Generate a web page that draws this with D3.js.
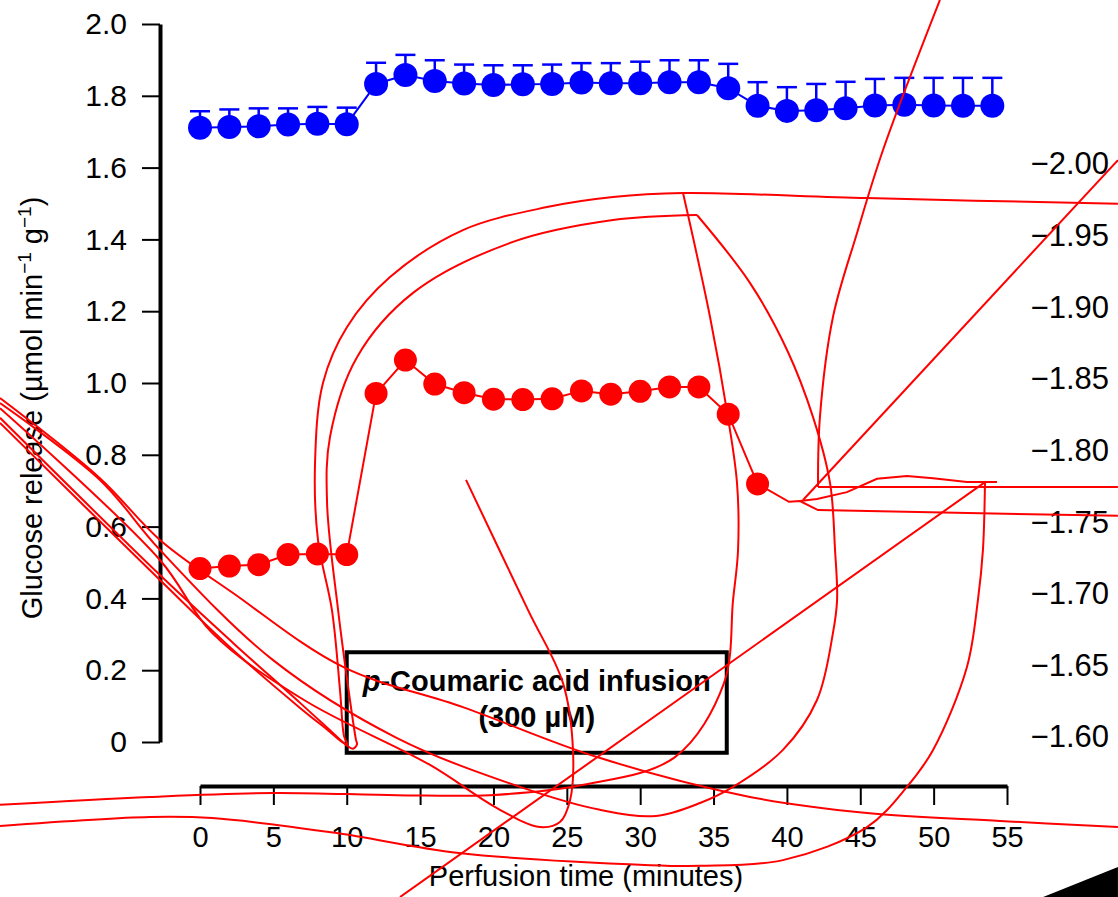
<!DOCTYPE html>
<html>
<head>
<meta charset="utf-8">
<script src="https://cdn.jsdelivr.net/npm/d3@7"></script>
<style>
  body { margin: 0; background: #fff; }
  svg { display: block; font-family: "Liberation Sans", Arial, sans-serif; }
</style>
</head>
<body>
<svg id="chart" width="1118" height="897"></svg>
<script>
// sampling times (minutes)
const minutes = [0, 2, 4, 6, 8, 10, 12, 14, 16, 18, 20, 22, 24, 26, 28, 30, 32, 34, 36, 38, 40, 42, 44, 46, 48, 50, 52, 54];

// blue series (mean and upper SEM)
const control = [1.711, 1.713, 1.715, 1.720, 1.722, 1.721, 1.833, 1.858, 1.841, 1.834, 1.830, 1.832, 1.833, 1.837,
  1.835, 1.835, 1.838, 1.838, 1.821, 1.772, 1.758, 1.760, 1.765, 1.773, 1.775, 1.773, 1.772, 1.772];
const controlSem = [0.046, 0.049, 0.050, 0.045, 0.047, 0.046, 0.059, 0.056, 0.058, 0.053, 0.055, 0.053, 0.054, 0.054,
  0.056, 0.060, 0.061, 0.061, 0.068, 0.066, 0.066, 0.073, 0.074, 0.074, 0.075, 0.077, 0.078, 0.078];

// red series (only up to 38 min)
const treated = [0.483, 0.490, 0.494, 0.522, 0.524, 0.522, 0.971, 1.064, 0.997, 0.973, 0.955, 0.954, 0.956, 0.978,
  0.969, 0.977, 0.989, 0.989, 0.913, 0.719];

const yTicks = [0, 0.2, 0.4, 0.6, 0.8, 1.0, 1.2, 1.4, 1.6, 1.8, 2.0];
const xTicks = [0, 5, 10, 15, 20, 25, 30, 35, 40, 45, 50, 55];
const rightTicks = [-2.00, -1.95, -1.90, -1.85, -1.80, -1.75, -1.70, -1.65, -1.60];

// infusion box: minutes and glucose levels it spans
const infusionSpan = [10, 35.9];
const infusionLevels = [0.25, -0.03];

// stray red traces, in [minutes, glucose] units
const traceLongRight = [[-13.63, 0.958], [-6.82, 0.735], [-2.73, 0.563], [2.25, 0.415], [9.75, 0.209], [17.92, 0.097],
  [27.06, -0.042], [37.48, -0.153], [45.46, -0.198], [54.52, -0.220], [62.56, -0.237]];
const traceInnerTop = [[-13.63, 0.944], [-6.82, 0.730], [-2.73, 0.535], [4.98, 0.228], [13.43, 0.011], [21.81, -0.125],
  [27.26, -0.189], [31.08, -0.206], [34.08, -0.170], [36.33, -0.125], [39.73, -0.022], [42.05, 0.117], [43.14, 0.304],
  [43.42, 0.396], [43.28, 0.535], [42.94, 0.721], [41.78, 0.905], [40.01, 1.092], [37.48, 1.279], [33.87, 1.468]];
const traceInnerLoop = [[33.87, 1.468], [28.15, 1.454], [21.33, 1.393], [14.52, 1.251], [10.70, 1.072], [8.86, 0.850],
  [8.66, 0.666], [9.41, 0.368], [10.22, 0.117], [10.63, 0.006], [10.70, -0.006], [10.43, -0.019], [9.95, -0.008],
  [9.06, 0.025], [6.82, 0.109], [2.25, 0.276], [-2.73, 0.465], [-13.63, 0.903]];
const traceOuterLoop = [[62.56, 1.499], [45.46, 1.515], [32.92, 1.529], [28.15, 1.518], [23.65, 1.490], [17.92, 1.426],
  [12.95, 1.295], [10.02, 1.156], [8.38, 1.000], [7.84, 0.777], [8.04, 0.563], [8.99, 0.368], [9.54, 0.145],
  [9.81, 0.017], [10.02, -0.006], [9.68, 0.000], [8.86, 0.028], [6.82, 0.095], [2.25, 0.256], [-2.73, 0.451],
  [-13.63, 0.889]];
const traceNarrowU = [[18.13, 0.730], [22.35, 0.368], [24.74, 0.164], [25.42, -0.022], [25.22, -0.162], [24.53, -0.223],
  [23.17, -0.237], [20.24, -0.184], [15.68, -0.064], [7.09, 0.117], [0.82, 0.304], [-2.73, 0.507], [-13.63, 0.930]];
const traceRidge = [[32.92, 1.529], [34.76, 1.184], [35.98, 0.905], [36.60, 0.721], [36.67, 0.535], [36.33, 0.396],
  [35.71, 0.164], [32.37, -0.042], [26.03, -0.120], [19.76, -0.148], [13.43, -0.148], [4.98, -0.142],
  [-3.41, -0.153], [-13.63, -0.175]];
const traceSpire = [[50.43, 2.067], [46.55, 1.649], [44.78, 1.418], [43.14, 1.184], [42.25, 0.905], [42.12, 0.710]];
const traceHook = [[53.50, 0.724], [53.36, 0.535], [53.02, 0.396], [52.27, 0.209], [49.96, -0.022], [48.18, -0.125],
  [45.46, -0.237], [39.73, -0.329], [34.08, -0.345], [30.67, -0.343], [17.65, -0.309], [9.20, -0.253],
  [0.82, -0.212], [-3.41, -0.209], [-13.63, -0.234]];
const traceShelf = [[42.12, 0.710], [62.56, 0.710]];
const traceDiagonal = [[62.56, 1.621], [41.10, 0.674]];
const traceTail = [[38, 0.719], [40.14, 0.669], [40.89, 0.671], [42.12, 0.646], [62.56, 0.630]];
const traceRipple = [[40.89, 0.671], [42.05, 0.677], [44.09, 0.696], [46.14, 0.733], [48.18, 0.741], [49.96, 0.735],
  [52.27, 0.724], [54.32, 0.724]];
const traceSlash = [[53.50, 0.724], [13.63, -0.432]];
const cornerWedge = [[57.45, -0.432], [62.56, -0.348], [62.56, -0.432]];

const svg = d3.select("#chart");

const x = d3.scaleLinear().domain([0, 55]).range([200, 1007]);
const y = d3.scaleLinear().domain([0, 2]).range([742, 24]);
const y2 = d3.scaleLinear().domain([-1.6, -2.0]).range([737, 164]);

// left axis
const yAxis = svg.append("g")
  .attr("transform", "translate(160,0)")
  .call(d3.axisLeft(y).tickValues(yTicks).tickSize(18).tickSizeOuter(0).tickPadding(15)
    .tickFormat(d => d === 0 ? "0" : d3.format(".1f")(d)));
yAxis.select(".domain").attr("stroke-width", 4);
yAxis.selectAll(".tick line").attr("stroke-width", 2);
yAxis.selectAll("text").attr("font-size", 30).attr("font-family", null).attr("fill", "#000");

// bottom axis, offset below the plot
const xAxis = svg.append("g")
  .attr("transform", "translate(0,786)")
  .call(d3.axisBottom(x).tickValues(xTicks).tickSize(19).tickSizeOuter(0).tickPadding(21));
xAxis.select(".domain").attr("stroke-width", 4);
xAxis.selectAll(".tick line").attr("stroke-width", 2);
xAxis.selectAll("text").attr("font-size", 29).attr("font-family", null).attr("fill", "#000");

// right axis: labels only
const rAxis = svg.append("g")
  .attr("transform", "translate(1109,0)")
  .call(d3.axisLeft(y2).tickValues(rightTicks).tickSize(0).tickPadding(0).tickFormat(d3.format(".2f")));
rAxis.select(".domain").remove();
rAxis.selectAll("text").attr("font-size", 31).attr("font-family", null).attr("fill", "#000");

// axis titles
const yTitle = svg.append("text")
  .attr("transform", "translate(42,408) rotate(-90)")
  .attr("text-anchor", "middle")
  .attr("font-size", 29);
yTitle.append("tspan").text("Glucose release (\u00b5mol min");
yTitle.append("tspan").attr("font-size", 19).attr("dy", -11).text("\u22121");
yTitle.append("tspan").attr("dy", 11).text(" g");
yTitle.append("tspan").attr("font-size", 19).attr("dy", -11).text("\u22121");
yTitle.append("tspan").attr("dy", 11).text(")");

svg.append("text")
  .attr("x", 586)
  .attr("y", 886)
  .attr("text-anchor", "middle")
  .attr("font-size", 29)
  .text("Perfusion time (minutes)");

// infusion box
const boxLeft = x(infusionSpan[0]);
const boxRight = x(infusionSpan[1]);
const boxTop = y(infusionLevels[0]);
const boxBottom = y(infusionLevels[1]);
svg.append("rect")
  .attr("x", boxLeft)
  .attr("y", boxTop)
  .attr("width", boxRight - boxLeft)
  .attr("height", boxBottom - boxTop)
  .attr("fill", "none")
  .attr("stroke", "#000")
  .attr("stroke-width", 4);

const boxText = svg.append("text")
  .attr("x", (boxLeft + boxRight) / 2)
  .attr("y", boxTop + 39)
  .attr("text-anchor", "middle")
  .attr("font-size", 29)
  .attr("font-weight", "bold");
boxText.append("tspan").attr("font-style", "italic").text("p");
boxText.append("tspan").text("-Coumaric acid infusion");
svg.append("text")
  .attr("x", (boxLeft + boxRight) / 2)
  .attr("y", boxTop + 75)
  .attr("text-anchor", "middle")
  .attr("font-size", 29)
  .attr("font-weight", "bold")
  .text("(300 \u00b5M)");

// blue series
const blue = "#0000ff";
const red = "#ff0000";
const controlData = minutes.map((m, i) => ({ m, v: control[i], e: controlSem[i] }));
const treatedData = treated.map((v, i) => ({ m: minutes[i], v }));

const line = d3.line().x(d => x(d.m)).y(d => y(d.v));

svg.append("path")
  .datum(controlData)
  .attr("d", line)
  .attr("fill", "none")
  .attr("stroke", blue)
  .attr("stroke-width", 2);

const errs = svg.append("g").attr("stroke", blue).attr("stroke-width", 2.5);
errs.selectAll("line.stem")
  .data(controlData)
  .enter()
  .append("line")
  .attr("class", "stem")
  .attr("x1", d => x(d.m))
  .attr("x2", d => x(d.m))
  .attr("y1", d => y(d.v))
  .attr("y2", d => y(d.v + d.e));
errs.selectAll("line.cap")
  .data(controlData)
  .enter()
  .append("line")
  .attr("class", "cap")
  .attr("x1", d => x(d.m) - 10)
  .attr("x2", d => x(d.m) + 10)
  .attr("y1", d => y(d.v + d.e))
  .attr("y2", d => y(d.v + d.e));

svg.append("g")
  .selectAll("circle")
  .data(controlData)
  .enter()
  .append("circle")
  .attr("cx", d => x(d.m))
  .attr("cy", d => y(d.v))
  .attr("r", 12)
  .attr("fill", blue);

// red series
svg.append("path")
  .datum(treatedData)
  .attr("d", line)
  .attr("fill", "none")
  .attr("stroke", red)
  .attr("stroke-width", 2);

svg.append("g")
  .selectAll("circle")
  .data(treatedData)
  .enter()
  .append("circle")
  .attr("cx", d => x(d.m))
  .attr("cy", d => y(d.v))
  .attr("r", 11.5)
  .attr("fill", red);

// stray red traces on top
const smooth = d3.line().x(d => x(d[0])).y(d => y(d[1])).curve(d3.curveCatmullRom.alpha(0.5));
const straight = d3.line().x(d => x(d[0])).y(d => y(d[1]));

const smoothTraces = [traceLongRight, traceInnerTop, traceInnerLoop, traceOuterLoop, traceNarrowU,
  traceRidge, traceSpire, traceHook];
const straightTraces = [traceShelf, traceDiagonal, traceTail, traceRipple, traceSlash];

const traces = svg.append("g").attr("fill", "none").attr("stroke", red).attr("stroke-width", 2);
traces.selectAll("path.smooth")
  .data(smoothTraces)
  .enter()
  .append("path")
  .attr("class", "smooth")
  .attr("d", smooth);
traces.selectAll("path.straight")
  .data(straightTraces)
  .enter()
  .append("path")
  .attr("class", "straight")
  .attr("d", straight);

svg.append("path")
  .datum(cornerWedge)
  .attr("d", d => straight(d) + "Z")
  .attr("fill", "#000");
</script>
</body>
</html>
